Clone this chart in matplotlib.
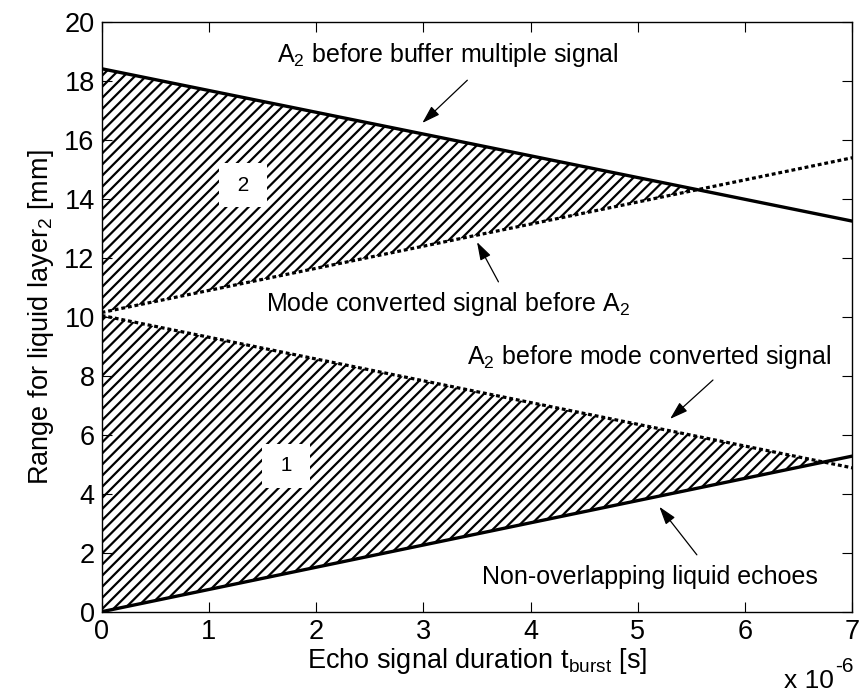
import numpy as np
import matplotlib
matplotlib.use('Agg')
import matplotlib.pyplot as plt
from matplotlib.ticker import FuncFormatter

plt.rcParams['font.family'] = ['Liberation Sans', 'DejaVu Sans']
plt.rcParams['mathtext.fontset'] = 'custom'
plt.rcParams['mathtext.rm'] = 'Liberation Sans'
plt.rcParams['mathtext.it'] = 'Liberation Sans'
plt.rcParams['hatch.linewidth'] = 1.6

# burst duration end points [s]
t_burst = np.array([0.0, 7e-6])
# liquid layer range limits [mm] at the two end points
buffer_multiple = np.array([18.42, 13.25])   # A2 before buffer multiple signal
mode_before_a2 = np.array([10.15, 15.4])     # mode converted signal before A2
a2_before_mode = np.array([10.05, 4.88])     # A2 before mode converted signal
non_overlap = np.array([0.0, 5.28])          # non-overlapping liquid echoes

region_labels = ['1', '2']
region_pos = [(1.72e-6, 4.95), (1.32e-6, 14.46)]

# (text, text position, arrow tip, arrow tail)
notes = [
    ('A$_2$ before buffer multiple signal', (3.23e-6, 18.9), (2.99e-6, 16.58), (3.41e-6, 18.03)),
    ('Mode converted signal before A$_2$', (3.23e-6, 10.45), (3.50e-6, 12.54), (3.70e-6, 11.19)),
    ('A$_2$ before mode converted signal', (5.10e-6, 8.64), (5.30e-6, 6.54), (5.70e-6, 7.86)),
    ('Non-overlapping liquid echoes', (5.11e-6, 1.19), (5.20e-6, 3.56), (5.55e-6, 1.93)),
]

fig = plt.figure(figsize=(8.61, 6.92), dpi=100)
ax = fig.add_axes([0.118, 0.116, 0.872, 0.852])

# hatched valid regions
ax.fill_between(t_burst, buffer_multiple, mode_before_a2,
                where=buffer_multiple >= mode_before_a2, interpolate=True,
                facecolor='white', edgecolor='k', hatch='///', linewidth=0)
ax.fill_between(t_burst, a2_before_mode, non_overlap,
                where=a2_before_mode >= non_overlap, interpolate=True,
                facecolor='white', edgecolor='k', hatch='///', linewidth=0)

dotted = (0, (1.2, 0.9))
ax.plot(t_burst, buffer_multiple, 'k-', lw=2.4)
ax.plot(t_burst, non_overlap, 'k-', lw=2.4)
ax.plot(t_burst, mode_before_a2, color='k', ls=dotted, lw=2.3)
ax.plot(t_burst, a2_before_mode, color='k', ls=dotted, lw=2.3)

for lab, (px, py) in zip(region_labels, region_pos):
    ax.text(px, py, ' ' + lab + ' ', ha='center', va='center', fontsize=15,
            bbox=dict(facecolor='white', edgecolor='none', pad=9))

arrow = dict(arrowstyle='-|>,head_length=1.1,head_width=0.35', color='k',
             lw=0.9, shrinkA=0, shrinkB=0)
for txt, pos, tip, tail in notes:
    ax.text(pos[0], pos[1], txt, fontsize=18, ha='center', va='center')
    ax.annotate('', xy=tip, xytext=tail, arrowprops=arrow)

ax.set_xlim(0, 7e-6)
ax.set_ylim(0, 20)
ax.set_xticks(np.arange(0, 8) * 1e-6)
ax.set_yticks(np.arange(0, 21, 2))
ax.xaxis.set_major_formatter(FuncFormatter(lambda v, p: '%d' % round(v * 1e6)))
ax.tick_params(direction='in', top=True, right=True, length=7, width=0.8,
               labelsize=19.5, pad=5)
for s in ax.spines.values():
    s.set_linewidth(1.0)

ax.set_xlabel('Echo signal duration t$_{burst}$ [s]', fontsize=19.5, labelpad=1)
ax.set_ylabel('Range for liquid layer$_2$ [mm]', fontsize=19.5, labelpad=6)
# MATLAB-style exponent label under the right end of the x axis
fig.text(834 / 861, 4 / 692, 'x 10', fontsize=19, ha='right', va='baseline')
fig.text(835 / 861, 20 / 692, '-6', fontsize=15, ha='left', va='baseline')

fig.savefig('out.png', dpi=100)
